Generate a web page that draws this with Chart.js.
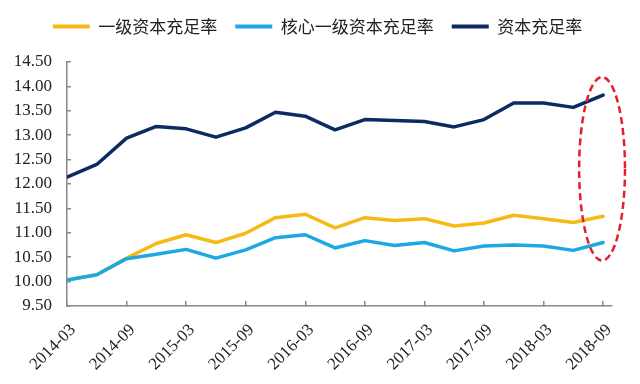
<!DOCTYPE html>
<html lang="zh-CN">
<head>
<meta charset="UTF-8">
<title>资本充足率</title>
<script src="https://cdn.jsdelivr.net/npm/chart.js"></script>
<style>
html, body { margin:0; padding:0; background:#fff; }
#wrap { width:640px; height:384px; position:relative; }
</style>
</head>
<body>
<div id="wrap"><canvas id="myChart"></canvas></div>
<script>
// 季度
const quarters = ['2014-03','2014-06','2014-09','2014-12','2015-03','2015-06','2015-09','2015-12',
  '2016-03','2016-06','2016-09','2016-12','2017-03','2017-06','2017-09','2017-12',
  '2018-03','2018-06','2018-09'];

// 一级资本充足率
const tier1Ratio = [10.03, 10.14, 10.48, 10.78, 10.96, 10.80, 10.99, 11.31, 11.38, 11.10,
  11.31, 11.25, 11.29, 11.14, 11.20, 11.36, 11.29, 11.21, 11.34];
// 核心一级资本充足率
const coreTier1Ratio = [10.03, 10.14, 10.47, 10.56, 10.66, 10.48, 10.65, 10.90, 10.96, 10.69,
  10.84, 10.74, 10.80, 10.63, 10.73, 10.75, 10.73, 10.64, 10.80];
// 资本充足率
const capitalRatio = [12.14, 12.40, 12.94, 13.18, 13.13, 12.96, 13.15, 13.47, 13.39, 13.11,
  13.32, 13.30, 13.28, 13.17, 13.32, 13.66, 13.66, 13.57, 13.82];

const yMin = 9.5, yMax = 14.5, yStep = 0.5;

// 红色虚线椭圆 (以坐标轴单位表示)
const highlight = { index: 18, top: 14.19, bottom: 10.43, halfWidth: 0.77 };

const serif = '"Liberation Serif", "Times New Roman", serif';
const cjk = '"Noto Sans CJK SC", sans-serif';

function pts(arr) {
  return arr.map((v, i) => ({x: i, y: v}));
}

// 椭圆
const ellipsePlugin = {
  id: 'ellipse',
  afterDatasetsDraw(chart) {
    const xs = chart.scales.x, ys = chart.scales.y;
    const cx = xs.getPixelForValue(highlight.index) - 1;
    const rx = xs.getPixelForValue(highlight.halfWidth) - xs.getPixelForValue(0);
    const top = ys.getPixelForValue(highlight.top);
    const bottom = ys.getPixelForValue(highlight.bottom);
    const ctx = chart.ctx;
    ctx.save();
    ctx.beginPath();
    ctx.ellipse(cx, (top + bottom) / 2, rx, (bottom - top) / 2, 0, 0, Math.PI * 2);
    ctx.setLineDash([7, 4]);
    ctx.lineWidth = 2.5;
    ctx.strokeStyle = '#E3202A';
    ctx.stroke();
    ctx.restore();
  }
};

// 图例位置微调
const legendNudge = {
  id: 'legendNudge',
  afterLayout(chart) {
    chart.legend.top -= 17;
    chart.legend.bottom -= 17;
    chart.legend.left += 15;
  }
};

const ctx = document.getElementById('myChart').getContext('2d');
const myChart = new Chart(ctx, {
  type: 'line',
  data: {
    datasets: [
      { label: '一级资本充足率', data: pts(tier1Ratio), borderColor: '#F7B913', backgroundColor: '#F7B913', order: 1 },
      { label: '核心一级资本充足率', data: pts(coreTier1Ratio), borderColor: '#1DA8E4', backgroundColor: '#1DA8E4', order: 0 },
      { label: '资本充足率', data: pts(capitalRatio), borderColor: '#0D2A63', backgroundColor: '#0D2A63', order: 2 }
    ]
  },
  options: {
    responsive: true,
    maintainAspectRatio: false,
    animation: false,
    layout: { padding: { left: 8, right: 28, top: 17, bottom: 0 } },
    elements: {
      line: { borderWidth: 3.5, tension: 0, borderCapStyle: 'round', borderJoinStyle: 'round', fill: false },
      point: { radius: 0, hoverRadius: 0 }
    },
    plugins: {
      tooltip: { enabled: false },
      legend: {
        position: 'top',
        align: 'center',
        labels: {
          font: { family: cjk, size: 17 },
          color: '#222',
          boxWidth: 37,
          boxHeight: 4,
          padding: 18,
          sort: (a, b) => a.datasetIndex - b.datasetIndex,
          generateLabels(chart) {
            const items = Chart.defaults.plugins.legend.labels.generateLabels(chart);
            items.forEach(it => { it.fillStyle = it.strokeStyle; it.lineWidth = 0; });
            return items;
          }
        }
      }
    },
    scales: {
      x: {
        type: 'linear',
        min: 0,
        max: 18.3,
        afterBuildTicks(axis) {
          axis.ticks = quarters.map((q, i) => ({value: i})).filter(t => t.value % 2 === 0);
        },
        afterFit(scale) { scale.height = 78; },
        ticks: {
          callback: (v) => quarters[v],
          autoSkip: false,
          maxRotation: 45,
          minRotation: 45,
          padding: 19,
          labelOffset: 6,
          color: '#222',
          font: { family: serif, size: 17 }
        },
        grid: { drawOnChartArea: false, drawTicks: true, tickLength: -5, color: '#888', lineWidth: 1.5 },
        border: { display: true, color: '#888', width: 1.5 }
      },
      y: {
        min: yMin,
        max: yMax,
        afterFit(scale) { scale.width = 59; },
        ticks: {
          stepSize: yStep,
          callback: (v) => v.toFixed(2),
          padding: 19,
          color: '#222',
          font: { family: serif, size: 17 }
        },
        grid: { drawOnChartArea: false, drawTicks: true, tickLength: -4, color: '#888', lineWidth: 1.5 },
        border: { display: true, color: '#888', width: 1.5 }
      }
    }
  },
  plugins: [ellipsePlugin, legendNudge]
});
</script>
</body>
</html>
